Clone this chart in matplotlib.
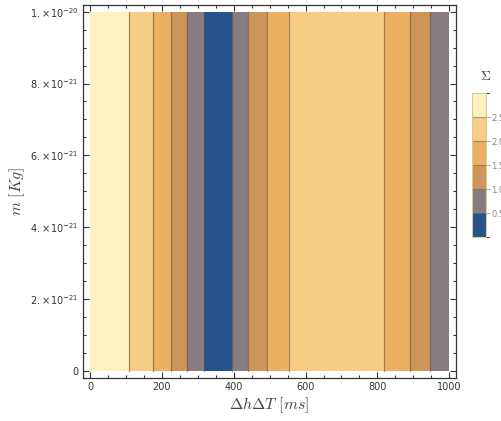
import matplotlib
matplotlib.use("Agg")
import matplotlib.pyplot as plt
import numpy as np
from matplotlib.colors import ListedColormap, BoundaryNorm
from matplotlib.ticker import MultipleLocator

# ---- data ----
band_edges = [0, 109, 176, 225, 271, 316, 396, 440, 492, 554, 818, 890, 947, 1000]
band_level = [2.75, 2.25, 1.75, 1.25, 0.75, 0.25, 0.75, 1.25, 1.75, 2.25, 1.75, 1.25, 0.75]
m_range = [0, 1e-20]
level_bounds = [0, 0.5, 1.0, 1.5, 2.0, 2.5, 3.0]
level_colors = ["#26548a", "#877c81", "#cd9559", "#edb062", "#f7cd85", "#fef1c2"]
cbar_ticks = [0.5, 1.0, 1.5, 2.0, 2.5]
cbar_labels = ["0.5", "1.0", "1.5", "2.0", "2.5"]
x_ticks = [0, 200, 400, 600, 800, 1000]
y_ticks = [0, 2e-21, 4e-21, 6e-21, 8e-21, 1e-20]
y_ticklabels = ["0", r"$2.\!\times\!10^{-21}$", r"$4.\!\times\!10^{-21}$",
                r"$6.\!\times\!10^{-21}$", r"$8.\!\times\!10^{-21}$", r"$1.\!\times\!10^{-20}$"]

fig = plt.figure(figsize=(5.01, 4.21), dpi=100)
W, H = 501, 421
def rect(l, t, r, b):
    return [l / W, (H - b) / H, (r - l) / W, (b - t) / H]

ax = fig.add_axes(rect(82.7, 4.7, 456, 378.3))
cmap = ListedColormap(level_colors)
norm = BoundaryNorm(level_bounds, cmap.N)

Z = np.array([band_level])
ax.pcolormesh(band_edges, m_range, Z, cmap=cmap, norm=norm, shading="flat")
for e in band_edges[1:-1]:
    ax.plot([e, e], m_range, color="#5e5040", alpha=0.55, lw=0.9)

ax.set_xlim(-20.3, 1018.7)
ax.set_ylim(-0.021e-20, 1.0195e-20)
ax.set_xticks(x_ticks)
ax.set_xticklabels([str(v) for v in x_ticks])
ax.set_yticks(y_ticks)
ax.set_yticklabels(y_ticklabels)
ax.xaxis.set_minor_locator(MultipleLocator(50))
ax.yaxis.set_minor_locator(MultipleLocator(5e-22))
ax.tick_params(which="both", direction="in", top=True, right=True,
               colors="#333333", labelcolor="#333333", labelsize=7, width=0.8)
ax.tick_params(which="major", length=4.5, pad=3)
ax.tick_params(which="minor", length=2.5)
for lab in ax.get_yticklabels():
    lab.set_math_fontfamily("dejavusans")
for s in ax.spines.values():
    s.set_color("#333333")
    s.set_linewidth(0.9)

ax.set_xlabel(r"$\Delta h\Delta T\ [ms]$", fontsize=11.5, color="#444444",
              math_fontfamily="cm", labelpad=2)
ax.set_ylabel(r"$m\ [Kg]$", fontsize=11.5, color="#444444",
              math_fontfamily="cm")
ax.yaxis.set_label_coords((27 - 82.7) / (456 - 82.7), 0.5)

# colorbar
cax = fig.add_axes(rect(471.5, 93.3, 485.7, 237.3))
sm = matplotlib.cm.ScalarMappable(cmap=cmap, norm=norm)
cb = fig.colorbar(sm, cax=cax, ticks=cbar_ticks, drawedges=True)
cb.ax.set_yticklabels(cbar_labels)
cb.outline.set_edgecolor("#d9c99a")
cb.outline.set_linewidth(0.8)
cb.dividers.set_color("#8a7050")
cb.dividers.set_alpha(0.6)
cb.dividers.set_linewidth(0.8)
cb.ax.tick_params(length=3, width=0.6, colors="#999999", labelcolor="#888888",
                  labelsize=6, pad=1)
fig.text(486 / W, (H - 76) / H, r"$\Sigma$", fontsize=10, color="#444444",
         ha="center", va="center", math_fontfamily="cm")

fig.savefig("out.png", dpi=100)
